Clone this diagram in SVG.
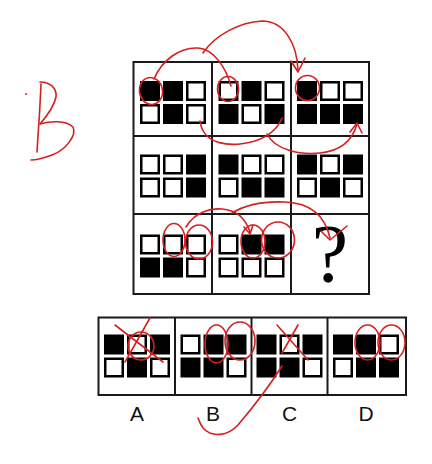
<svg xmlns="http://www.w3.org/2000/svg" xmlns:xlink="http://www.w3.org/1999/xlink" width="432" height="464" viewBox="0 0 432 464">
<style>
.frame{fill:none;stroke:#1a1a1a;stroke-width:2}
.red{fill:none;stroke:#d61f1f;stroke-width:1.6;stroke-linecap:round;stroke-linejoin:round}
.lbl{font-family:"Liberation Sans",Arial,sans-serif;font-size:21px;fill:#111;text-anchor:middle}
.q{font-family:"Liberation Serif","Times New Roman",serif;font-size:82px;fill:#000;text-anchor:middle}
</style>
<defs>
<rect id="B" width="20" height="20" fill="#000"/>
<rect id="W" x="1.25" y="1.25" width="17.5" height="17.5" fill="#fff" stroke="#000" stroke-width="2.5"/>
</defs>
<rect width="432" height="464" fill="#fff"/>

<g id="grid">
<rect class="frame" x="133.5" y="62" width="235.5" height="232"/>
<line class="frame" x1="212" y1="62" x2="212" y2="294"/>
<line class="frame" x1="291" y1="62" x2="291" y2="294"/>
<line class="frame" x1="133.5" y1="136" x2="369" y2="136"/>
<line class="frame" x1="133.5" y1="214" x2="369" y2="214"/>
</g>

<g id="cell-1-1">
<use href="#B" x="140" y="81"/><use href="#B" x="163" y="81"/><use href="#W" x="186" y="81"/>
<use href="#W" x="140" y="104"/><use href="#B" x="163" y="104"/><use href="#W" x="186" y="104"/>
</g>
<g id="cell-1-2">
<use href="#W" x="218.5" y="81"/><use href="#B" x="241.5" y="81"/><use href="#W" x="264.5" y="81"/>
<use href="#B" x="218.5" y="104"/><use href="#W" x="241.5" y="104"/><use href="#B" x="264.5" y="104"/>
</g>
<g id="cell-1-3">
<use href="#B" x="297" y="81"/><use href="#W" x="320" y="81"/><use href="#W" x="343" y="81"/>
<use href="#B" x="297" y="104"/><use href="#B" x="320" y="104"/><use href="#B" x="343" y="104"/>
</g>
<g id="cell-2-1">
<use href="#W" x="140" y="154.5"/><use href="#W" x="163" y="154.5"/><use href="#B" x="186" y="154.5"/>
<use href="#W" x="140" y="177.5"/><use href="#W" x="163" y="177.5"/><use href="#B" x="186" y="177.5"/>
</g>
<g id="cell-2-2">
<use href="#B" x="218.5" y="154.5"/><use href="#W" x="241.5" y="154.5"/><use href="#W" x="264.5" y="154.5"/>
<use href="#W" x="218.5" y="177.5"/><use href="#B" x="241.5" y="177.5"/><use href="#B" x="264.5" y="177.5"/>
</g>
<g id="cell-2-3">
<use href="#B" x="297" y="154.5"/><use href="#W" x="320" y="154.5"/><use href="#B" x="343" y="154.5"/>
<use href="#W" x="297" y="177.5"/><use href="#B" x="320" y="177.5"/><use href="#W" x="343" y="177.5"/>
</g>
<g id="cell-3-1">
<use href="#W" x="140" y="234.5"/><use href="#W" x="163" y="234.5"/><use href="#W" x="186" y="234.5"/>
<use href="#B" x="140" y="257.5"/><use href="#B" x="163" y="257.5"/><use href="#W" x="186" y="257.5"/>
</g>
<g id="cell-3-2">
<use href="#W" x="218.5" y="234.5"/><use href="#B" x="241.5" y="234.5"/><use href="#B" x="264.5" y="234.5"/>
<use href="#W" x="218.5" y="257.5"/><use href="#W" x="241.5" y="257.5"/><use href="#W" x="264.5" y="257.5"/>
</g>
<g id="cell-3-3">
<text class="q" x="330" y="281">?</text>
</g>

<g id="answers">
<rect class="frame" x="98.5" y="317.5" width="307.5" height="77.5"/>
<line class="frame" x1="175" y1="317.5" x2="175" y2="395"/>
<line class="frame" x1="251.5" y1="317.5" x2="251.5" y2="395"/>
<line class="frame" x1="327.5" y1="317.5" x2="327.5" y2="395"/>
</g>
<g id="option-A">
<use href="#B" x="104" y="334.5"/><use href="#W" x="127" y="334.5"/><use href="#B" x="150" y="334.5"/>
<use href="#W" x="104" y="357.5"/><use href="#B" x="127" y="357.5"/><use href="#W" x="150" y="357.5"/>
<text class="lbl" x="137" y="421">A</text>
</g>
<g id="option-B">
<use href="#W" x="180.5" y="334.5"/><use href="#B" x="203.5" y="334.5"/><use href="#B" x="226.5" y="334.5"/>
<use href="#B" x="180.5" y="357.5"/><use href="#B" x="203.5" y="357.5"/><use href="#W" x="226.5" y="357.5"/>
<text class="lbl" x="213" y="421">B</text>
</g>
<g id="option-C">
<use href="#B" x="256.5" y="334.5"/><use href="#W" x="279.5" y="334.5"/><use href="#B" x="302.5" y="334.5"/>
<use href="#B" x="256.5" y="357.5"/><use href="#B" x="279.5" y="357.5"/><use href="#W" x="302.5" y="357.5"/>
<text class="lbl" x="289.5" y="421">C</text>
</g>
<g id="option-D">
<use href="#B" x="333" y="334.5"/><use href="#B" x="356" y="334.5"/><use href="#W" x="379" y="334.5"/>
<use href="#W" x="333" y="357.5"/><use href="#B" x="356" y="357.5"/><use href="#B" x="379" y="357.5"/>
<text class="lbl" x="366" y="421">D</text>
</g>

<g id="connectors">
<!-- row 1 -->
<ellipse class="red" cx="151" cy="91" rx="11.5" ry="13.5" transform="rotate(-10 151 91)"/>
<ellipse class="red" cx="228" cy="89" rx="10.5" ry="12.5"/>
<ellipse class="red" cx="307.5" cy="88" rx="12" ry="12.5"/>
<path class="red" d="M154,79 C162,60 180,47 198,48 C214,49 226,68 231,86"/>
<path class="red" d="M203,53 C215,35 240,22 262,21 C285,21 297,45 298,70"/>
<path class="red" d="M291,61 L298,72 L305,58"/>
<path class="red" d="M200,121 C203,145 230,148 255,141 C270,136 278,128 282,118"/>
<path class="red" d="M267,134 C275,150 300,155 320,153 C340,151 352,142 357,124"/>
<path class="red" d="M350,132 L357,123 L362,133"/>
<!-- row 3 -->
<ellipse class="red" cx="174" cy="240" rx="11" ry="16.5"/>
<ellipse class="red" cx="199" cy="242" rx="13.5" ry="17"/>
<ellipse class="red" cx="253" cy="241.5" rx="12" ry="16.5"/>
<ellipse class="red" cx="278" cy="240" rx="16.5" ry="18"/>
<path class="red" d="M186,227 C195,212 210,208 222,209 C238,210 246,220 250,232"/>
<path class="red" d="M244,227 L250,234 L253,225"/>
<path class="red" d="M232,213 C245,205 262,201 285,202 C310,203 325,215 330,238"/>
<path class="red" d="M321,231 L330,240 L347,226"/>
<!-- answers -->
<path class="red" d="M115,325 L163,362 M150,318 L125,362"/>
<ellipse class="red" cx="141" cy="346" rx="13" ry="14"/>
<ellipse class="red" cx="216.5" cy="344" rx="11.5" ry="19"/>
<ellipse class="red" cx="240" cy="341" rx="15" ry="19"/>
<path class="red" d="M277,325 L308,360 M298,325 L282,353"/>
<path class="red" d="M282,366 C270,385 255,405 238,425 C228,436 212,438 203,428 C200,424 199,420 198,418"/>
<ellipse class="red" cx="367.5" cy="342.5" rx="12.5" ry="17.5"/>
<ellipse class="red" cx="391.5" cy="342.5" rx="13.5" ry="17.5"/>
</g>

<g id="answer-mark">
<path class="red" d="M41,84 C40,110 38,135 37,152"/>
<path class="red" d="M40,82 C50,82 57,88 56,97 C54,107 46,117 40,124 C50,121 66,120 73,127 C77,135 66,150 52,155 C44,158 36,160 31,160"/>
<circle cx="26" cy="94" r="1" fill="#d61f1f"/>
</g>
</svg>
